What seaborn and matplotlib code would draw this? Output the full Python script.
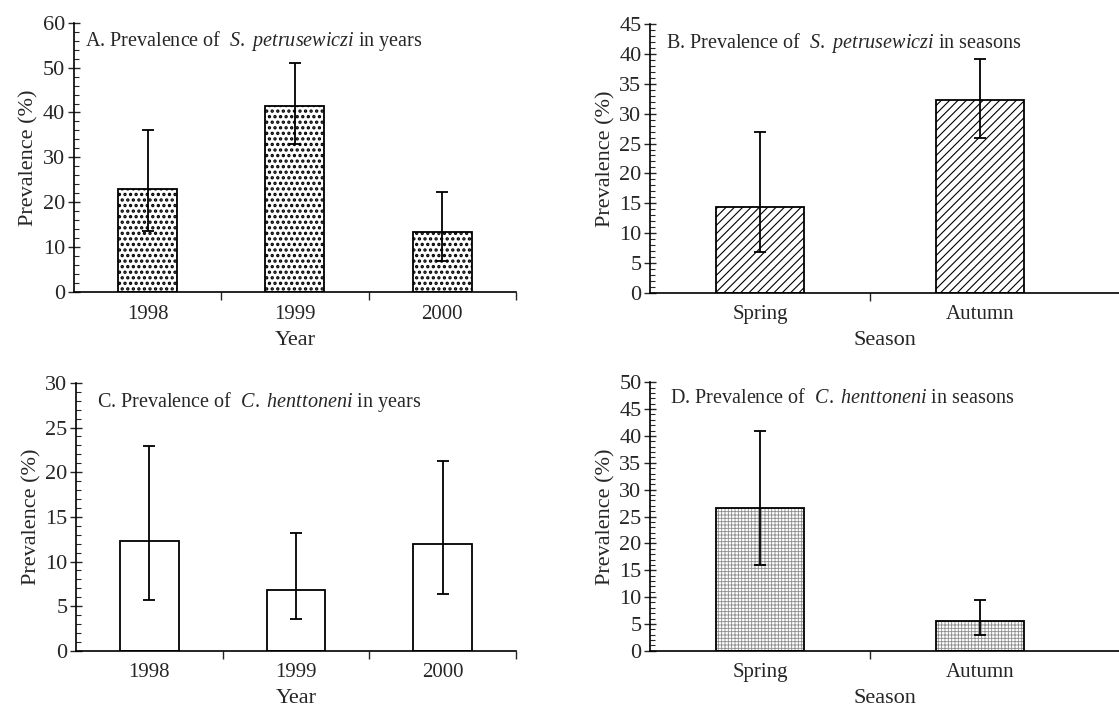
import matplotlib
matplotlib.use("Agg")
import matplotlib.pyplot as plt
from matplotlib.ticker import MultipleLocator, FixedLocator, NullFormatter
import seaborn as sns

# data
years = ["1998", "1999", "2000"]
seasons = ["Spring", "Autumn"]

sp_year = [23.0, 41.5, 13.3]
sp_year_lo = [13.5, 33.0, 7.0]
sp_year_hi = [36.0, 51.0, 22.3]

sp_season = [14.3, 32.3]
sp_season_lo = [6.8, 26.0]
sp_season_hi = [27.0, 39.2]

ch_year = [12.3, 6.8, 12.0]
ch_year_lo = [5.7, 3.6, 6.4]
ch_year_hi = [22.9, 13.2, 21.2]

ch_season = [26.5, 5.5]
ch_season_lo = [16.0, 3.0]
ch_season_hi = [41.0, 9.5]

sns.set_style("white")
plt.rcParams["font.family"] = ["Liberation Serif", "DejaVu Serif"]
plt.rcParams["mathtext.fontset"] = "custom"
plt.rcParams["mathtext.rm"] = "Liberation Serif"
plt.rcParams["mathtext.it"] = "Liberation Serif:italic"

FS_TITLE = 14.5
FS_XTICK = 15
FS_YTICK = 16
FS_LABEL = 16


def panel(ax, cats, vals, lo, hi, title, xlabel, ymax, ymajor, yminor,
          hatch, xmax, title_x, hatch_lw=0.8, fine_grid=False):
    with plt.rc_context({"hatch.linewidth": hatch_lw}):
        if fine_grid:
            sns.barplot(x=cats, y=vals, ax=ax, color="white", saturation=1,
                        edgecolor="#8c8c8c", linewidth=0, hatch=hatch,
                        width=0.4, errorbar=None)
            sns.barplot(x=cats, y=vals, ax=ax, fill=False, edgecolor="black",
                        linewidth=1.3, width=0.4, errorbar=None)
        else:
            sns.barplot(x=cats, y=vals, ax=ax, color="white", saturation=1,
                        edgecolor="black", linewidth=1.3, hatch=hatch,
                        width=0.4, errorbar=None)
    yerr = [[v - l for v, l in zip(vals, lo)], [h - v for v, h in zip(vals, hi)]]
    ax.errorbar(range(len(cats)), vals, yerr=yerr, fmt="none", ecolor="black",
                elinewidth=1.3, capsize=4.5, capthick=1.3)

    ax.set_ylim(0, ymax)
    ax.set_xlim(-0.5, xmax)
    ax.yaxis.set_major_locator(MultipleLocator(ymajor))
    ax.yaxis.set_minor_locator(MultipleLocator(yminor))
    ax.tick_params(axis="y", which="major", direction="inout", length=8.5,
                   width=1, labelsize=FS_YTICK, pad=2, left=True)
    ax.tick_params(axis="y", which="minor", direction="in", length=3.5,
                   width=0.8, left=True)

    # x ticks sit on the category boundaries, labels stay centred
    n_bounds = len(cats) if xmax <= len(cats) - 0.5 else len(cats) - 1
    ax.xaxis.set_minor_locator(FixedLocator([i + 0.5 for i in range(n_bounds)]))
    ax.xaxis.set_minor_formatter(NullFormatter())
    ax.tick_params(axis="x", which="major", length=0, labelsize=FS_XTICK,
                   pad=9, bottom=True)
    ax.tick_params(axis="x", which="minor", direction="out", length=6,
                   width=1, bottom=True)

    ax.set_xlabel(xlabel, fontsize=FS_LABEL, labelpad=5)
    ax.set_ylabel("Prevalence (%)", fontsize=FS_LABEL, labelpad=3)
    ax.text(title_x, 0.975, title, transform=ax.transAxes, fontsize=FS_TITLE,
            ha="left", va="top")

    sns.despine(ax=ax)
    for s in ("left", "bottom"):
        ax.spines[s].set_linewidth(1.2)
        ax.spines[s].set_color("black")


fig = plt.figure(figsize=(11.19, 7.09), dpi=100)
axA = fig.add_axes([0.066, 0.588, 0.395, 0.380])
axB = fig.add_axes([0.581, 0.587, 0.419, 0.379])
axC = fig.add_axes([0.068, 0.082, 0.393, 0.378])
axD = fig.add_axes([0.581, 0.082, 0.419, 0.379])

panel(axA, years, sp_year, sp_year_lo, sp_year_hi,
      r"A. Prevalence of  $\mathit{S.\ petrusewiczi}$ in years", "Year",
      60, 10, 2, "...", 2.5, 0.025, hatch_lw=1.6)
panel(axB, seasons, sp_season, sp_season_lo, sp_season_hi,
      r"B. Prevalence of  $\mathit{S.\ petrusewiczi}$ in seasons", "Season",
      45, 5, 1, "////", 1.63, 0.034, hatch_lw=0.8)
panel(axC, years, ch_year, ch_year_lo, ch_year_hi,
      r"C. Prevalence of  $\mathit{C.\ henttoneni}$ in years", "Year",
      30, 5, 1, None, 2.5, 0.048)
panel(axD, seasons, ch_season, ch_season_lo, ch_season_hi,
      r"D. Prevalence of  $\mathit{C.\ henttoneni}$ in seasons", "Season",
      50, 5, 1, "+++++", 1.63, 0.043, hatch_lw=0.6, fine_grid=True)

fig.savefig("out.png", dpi=100, facecolor="white")
